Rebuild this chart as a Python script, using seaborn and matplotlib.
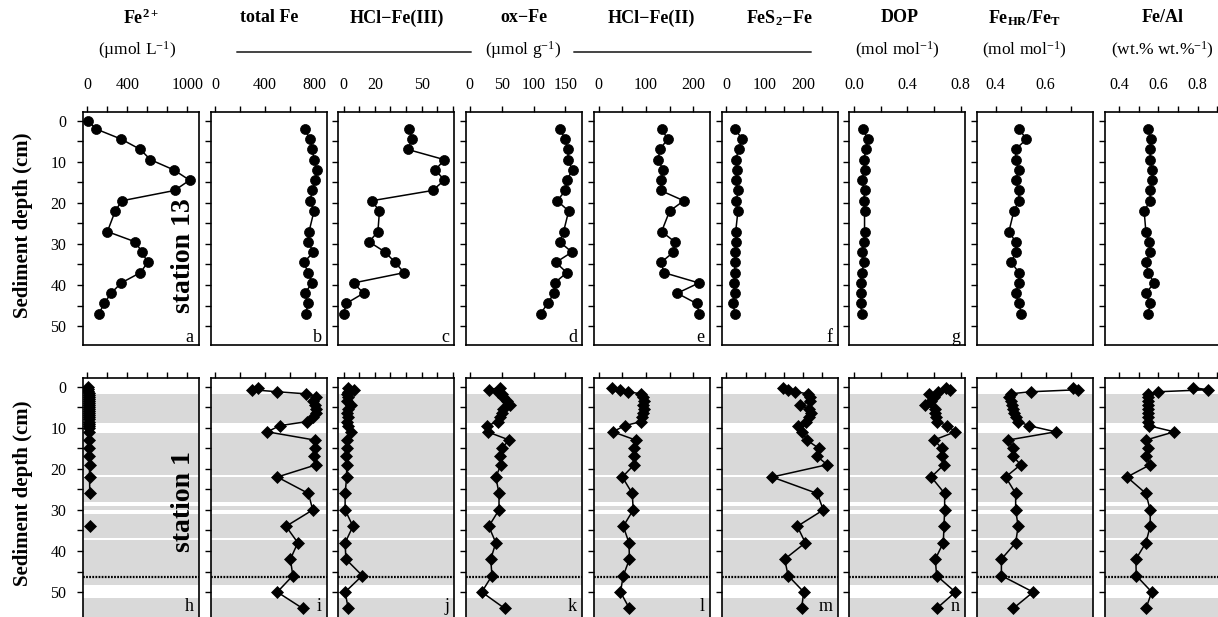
import numpy as np
import pandas as pd
import matplotlib
matplotlib.use("Agg")
import matplotlib.pyplot as plt
from matplotlib.lines import Line2D
import seaborn as sns

# ---------------- data ----------------
# station 13 (top row)
depth_st13_pw = [0, 2, 4.5, 7, 9.5, 12, 14.5, 17, 19.5, 22, 27, 29.5, 32, 34.5, 37, 39.5, 42, 44.5, 47]
fe2_st13 = [10, 84, 339, 530, 631, 866, 1023, 872, 346, 279, 201, 480, 547, 604, 530, 339, 238, 168, 117]

depth_st13 = [2, 4.5, 7, 9.5, 12, 14.5, 17, 19.5, 22, 27, 29.5, 32, 34.5, 37, 39.5, 42, 44.5, 47]
totfe_st13 = [720, 763, 782, 795, 817, 806, 782, 763, 795, 755, 747, 790, 714, 747, 782, 720, 747, 728]
hclfe3_st13 = [42, 44, 41, 64.6, 58.8, 64.6, 57, 18, 23, 22, 16.4, 26.7, 33, 38.8, 6.4, 12.8, 1.7, 0]
oxfe_st13 = [142, 149, 154, 154, 161, 152, 150, 137, 155, 147, 141, 160, 135, 152, 133, 132, 122, 111]
hclfe2_st13 = [133, 146, 129, 126, 136, 132, 131, 180, 150, 133, 161, 158, 132, 138, 212, 166, 207, 213]
fes2_st13 = [22, 41, 32, 24, 28, 24, 30, 26, 30, 24, 25, 22, 21, 22, 19, 21, 17, 22]
dop_st13 = [0.067, 0.105, 0.09, 0.075, 0.08, 0.06, 0.08, 0.075, 0.08, 0.08, 0.075, 0.06, 0.075, 0.06, 0.05, 0.057, 0.05, 0.06]
fehr_st13 = [0.493, 0.523, 0.48, 0.48, 0.493, 0.48, 0.493, 0.493, 0.473, 0.453, 0.48, 0.48, 0.463, 0.493, 0.493, 0.48, 0.493, 0.503]
feal_st13 = [0.547, 0.561, 0.558, 0.558, 0.569, 0.569, 0.558, 0.558, 0.527, 0.536, 0.553, 0.558, 0.536, 0.547, 0.578, 0.536, 0.558, 0.547]

# station 1 (bottom row)
depth_st1_pw_a = [0, 0.5, 1, 1.5, 2, 2.5, 3, 3.5, 4, 4.5, 5, 5.5, 6, 6.5, 7, 7.5, 8, 8.5, 9, 9.5, 10,
                  11, 13, 15, 17, 19, 22, 26]
fe2_st1_a = [5, 8, 10, 12, 12, 13, 14, 14, 15, 15, 16, 16, 17, 17, 18, 18, 18, 19, 19, 20, 20,
             20, 20, 21, 21, 22, 22, 25]
depth_st1_pw_b = [34]
fe2_st1_b = [22]

depth_st1 = [0.25, 0.75, 1.25, 1.75, 2.5, 3.5, 4.5, 5.5, 6.5, 7.5, 8.5, 9.5, 11, 13, 15, 17, 19,
             22, 26, 30, 34, 38, 42, 46, 50, 54]
totfe_st1 = [344, 300, 500, 730, 815, 790, 800, 815, 810, 790, 740, 520, 420, 800, 805, 795, 815,
             500, 750, 785, 570, 665, 605, 625, 500, 705]
hclfe3_st1 = [3, 7, 3, 2, 3, 2, 5, 3, 2, 3, 2, 3, 4.5, 2, 2, 1.5, 2, 2, 1, 1, 6, 1, 1.5, 12, 1, 3]
oxfe_st1 = [47, 31, 45, 50, 53, 58, 63, 52, 50, 48, 45, 27, 28, 62, 50, 48, 49, 41, 46, 46, 30, 41, 33, 35, 19, 55]
hclfe2_st1 = [28, 45, 62, 90, 94, 95, 94, 95, 93, 92, 90, 55, 30, 78, 74, 74, 75, 50, 71, 73, 52, 64, 65, 52, 46, 65]
fes2_st1 = [147, 160, 180, 213, 219, 218, 193, 215, 222, 215, 208, 186, 198, 210, 241, 237, 263,
            119, 237, 253, 185, 206, 152, 161, 202, 196]
dop_st1 = [0.69, 0.72, 0.63, 0.56, 0.60, 0.58, 0.535, 0.61, 0.61, 0.615, 0.62, 0.70, 0.76, 0.60, 0.66,
           0.66, 0.675, 0.58, 0.68, 0.68, 0.675, 0.67, 0.61, 0.62, 0.76, 0.62]
fehr_st1 = [0.71, 0.73, 0.54, 0.46, 0.455, 0.46, 0.465, 0.47, 0.475, 0.48, 0.49, 0.533, 0.64, 0.45,
            0.47, 0.47, 0.50, 0.44, 0.48, 0.48, 0.49, 0.48, 0.423, 0.423, 0.55, 0.47]
feal_st1 = [0.775, 0.852, 0.60, 0.545, 0.545, 0.545, 0.548, 0.548, 0.545, 0.548, 0.548, 0.55, 0.68,
            0.536, 0.547, 0.536, 0.558, 0.44, 0.536, 0.558, 0.558, 0.536, 0.485, 0.487, 0.566, 0.536]

# lithological shading (grey units) and dotted marker depth at station 1
band_tops = [1.8, 11.2, 22.1, 29.0, 30.9, 37.4, 51.4]
band_bottoms = [8.8, 21.6, 28.2, 30.1, 36.8, 48.2, 70]
dotted_depth = 46.3

headers = ["Fe$^{2+}$", "total Fe", "HCl\u2212Fe(III)", "ox\u2212Fe", "HCl\u2212Fe(II)",
           "FeS$_2$\u2212Fe", "DOP", "Fe$_{HR}$/Fe$_T$", "Fe/Al"]
xticks = [[0, 200, 400, 600, 800, 1000], [0, 200, 400, 600, 800], [0, 10, 20, 30, 40, 50, 60, 70],
          [0, 50, 100, 150], [0, 50, 100, 150, 200], [0, 50, 100, 150, 200, 250],
          [0, 0.2, 0.4, 0.6, 0.8], [0.4, 0.5, 0.6, 0.7], [0.4, 0.5, 0.6, 0.7, 0.8, 0.9]]
xticklabels = [["0", "", "400", "", "", "1000"], ["0", "", "400", "", "800"],
               ["0", "", "20", "", "", "50", "", ""], ["0", "50", "100", "150"],
               ["0", "", "100", "", "200"], ["0", "", "100", "", "200", ""],
               ["0.0", "", "0.4", "", "0.8"], ["0.4", "", "0.6", ""],
               ["0.4", "", "0.6", "", "0.8", ""]]
xlims = [(-43, 1117), (-35, 897), (-3.3, 71), (-5.5, 176), (-10.4, 235), (-13, 290),
         (-0.035, 0.834), (0.325, 0.789), (0.326, 0.916)]
letters_top = ["a", "b", "c", "d", "e", "f", "g", None, None]
letters_bot = ["h", "i", "j", "k", "l", "m", "n", None, None]

top_series = [(fe2_st13, depth_st13_pw), (totfe_st13, depth_st13), (hclfe3_st13, depth_st13),
              (oxfe_st13, depth_st13), (hclfe2_st13, depth_st13), (fes2_st13, depth_st13),
              (dop_st13, depth_st13), (fehr_st13, depth_st13), (feal_st13, depth_st13)]
bot_series = [None, (totfe_st1, depth_st1), (hclfe3_st1, depth_st1), (oxfe_st1, depth_st1),
              (hclfe2_st1, depth_st1), (fes2_st1, depth_st1), (dop_st1, depth_st1),
              (fehr_st1, depth_st1), (feal_st1, depth_st1)]

# ---------------- style ----------------
sns.set_style("ticks")
plt.rcParams["font.family"] = ["Liberation Serif", "DejaVu Serif"]
plt.rcParams["mathtext.fontset"] = "custom"
plt.rcParams["mathtext.rm"] = "Liberation Serif"
plt.rcParams["mathtext.bf"] = "Liberation Serif:bold"
plt.rcParams["mathtext.default"] = "regular"
plt.rcParams["axes.linewidth"] = 1.2
for k in ["text.color", "axes.labelcolor", "xtick.color", "ytick.color", "axes.edgecolor"]:
    plt.rcParams[k] = "black"

W, H = 1218, 617
fig = plt.figure(figsize=(W / 100, H / 100), dpi=100)


def rect(left, top, w, h):
    return [left / W, 1 - (top + h) / H, w / W, h / H]


def ftext(x, y, s, **kw):
    fig.text(x / W, 1 - y / H, s, **kw)


lefts = [83 + k * 127.7 for k in range(9)]
PWS = [116] * 8 + [118]
TOP1, H1 = 112, 233
TOP2, H2 = 378, 242
YLIM1 = (54.6, -2.1)
YLIM2 = (56.8, -2.1)
yt = list(range(0, 55, 5))
ytl = [str(v) if v % 10 == 0 else "" for v in yt]


def style_axes(ax, i, ylim, show_xlabels):
    lo, hi = xlims[i]
    if i == 8:
        hi = lo + (hi - lo) * PWS[8] / 116
    ax.set_xlim(lo, hi)
    ax.set_ylim(*ylim)
    ax.xaxis.tick_top()
    ax.set_xticks(xticks[i])
    if show_xlabels:
        ax.set_xticklabels(xticklabels[i])
    else:
        ax.set_xticklabels([""] * len(xticks[i]))
    ax.set_yticks(yt)
    if i == 0:
        ax.set_yticklabels(ytl)
    else:
        ax.set_yticklabels([""] * len(yt))
    ax.tick_params(axis="x", direction="out", length=4, width=1, pad=10, labelsize=11.5,
                   top=True, bottom=False, colors="black")
    ax.tick_params(axis="y", direction="out", length=4, width=1, pad=8, labelsize=11.5,
                   left=True, right=False, colors="black")
    ax.set_xlabel("")
    ax.set_ylabel("")
    for sp in ax.spines.values():
        sp.set_visible(True)
        sp.set_color("black")
        sp.set_linewidth(1.2)


line_kw = dict(color="black", linewidth=1.1, sort=False, estimator=None, legend=False)

# top row: station 13
for i in range(9):
    ax = fig.add_axes(rect(lefts[i], TOP1, PWS[i], H1))
    vals, dep = top_series[i]
    sns.lineplot(x=vals, y=dep, marker="o", ms=7.2, mec="black", mew=0.5, ax=ax, **line_kw)
    style_axes(ax, i, YLIM1, True)
    if letters_top[i]:
        ax.text(0.955, 0.013, letters_top[i], transform=ax.transAxes, ha="right",
                va="baseline", fontsize=13)

# bottom row: station 1
for i in range(9):
    ax = fig.add_axes(rect(lefts[i], TOP2, PWS[i], H2))
    for t, b in zip(band_tops, band_bottoms):
        ax.axhspan(t, b, color="#d9d9d9", lw=0, zorder=0)
    ax.axhline(dotted_depth, color="black", lw=1.6, ls=(0, (0.8, 0.6)), zorder=1)
    if i == 0:
        sns.lineplot(x=fe2_st1_a, y=depth_st1_pw_a, marker="D", ms=6, mec="black", mew=0.5,
                     ax=ax, **line_kw)
        sns.lineplot(x=fe2_st1_b, y=depth_st1_pw_b, marker="D", ms=6, mec="black", mew=0.5,
                     ax=ax, **line_kw)
    else:
        vals, dep = bot_series[i]
        sns.lineplot(x=vals, y=dep, marker="D", ms=6, mec="black", mew=0.5, ax=ax, **line_kw)
    style_axes(ax, i, YLIM2, False)
    if letters_bot[i]:
        ax.text(0.955, (620 - 611) / H2, letters_bot[i], transform=ax.transAxes, ha="right",
                va="baseline", fontsize=13)

# headers
for i in range(9):
    cx = lefts[i] + 58
    if i == 6:
        cx -= 8
    if i == 7:
        cx -= 10
    ftext(cx, 18, headers[i], ha="center", va="center", fontsize=13, fontweight="bold")

ftext(lefts[0] + 58 - 4, 50, "(\u00b5mol L$^{-1}$)", ha="center", va="center", fontsize=12.5)
ftext(523, 50, "(\u00b5mol g$^{-1}$)", ha="center", va="center", fontsize=12.5)
ftext(lefts[6] + 58 - 10, 50, "(mol mol$^{-1}$)", ha="center", va="center", fontsize=12.5)
ftext(lefts[7] + 58 - 11, 50, "(mol mol$^{-1}$)", ha="center", va="center", fontsize=12.5)
ftext(lefts[8] + 58, 50, "(wt.% wt.%$^{-1}$)", ha="center", va="center", fontsize=12.5)

for x0, x1 in [(237, 471), (574, 811)]:
    fig.add_artist(Line2D([x0 / W, x1 / W], [1 - 52 / H, 1 - 52 / H], color="#444444", lw=1.4))

# row labels
ftext(23, 225, "Sediment depth (cm)", rotation=90, ha="center", va="center", fontsize=15,
      fontweight="bold")
ftext(23, 493, "Sediment depth (cm)", rotation=90, ha="center", va="center", fontsize=15,
      fontweight="bold")
ftext(183, 256, "station 13", rotation=90, ha="center", va="center", fontsize=20, fontweight="bold")
ftext(183, 502, "station 1", rotation=90, ha="center", va="center", fontsize=20, fontweight="bold")

fig.savefig("out.png", dpi=100)
